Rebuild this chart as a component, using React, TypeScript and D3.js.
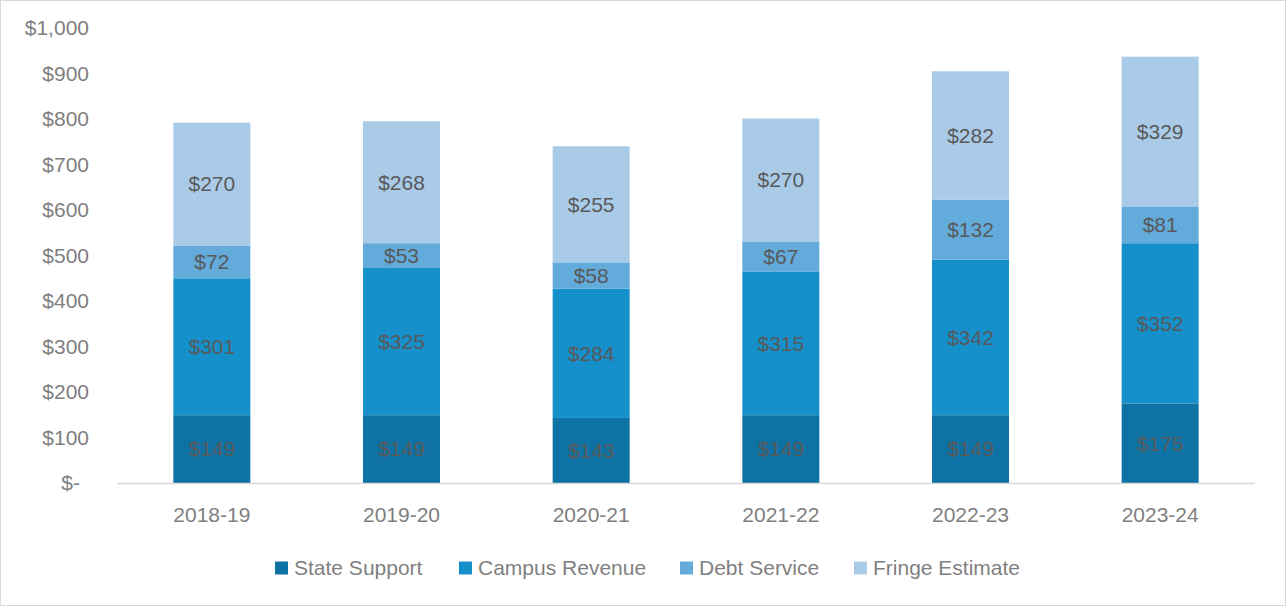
import { useEffect } from 'react';
import * as d3 from 'd3';

const years = ['2018-19', '2019-20', '2020-21', '2021-22', '2022-23', '2023-24'];
const stateSupport = [149, 149, 143, 149, 149, 175];
const campusRevenue = [301, 325, 284, 315, 342, 352];
const debtService = [72, 53, 58, 67, 132, 81];
const fringeEstimate = [270, 268, 255, 270, 282, 329];
const seriesNames = ['State Support', 'Campus Revenue', 'Debt Service', 'Fringe Estimate'];
const seriesColors = ['#0e73a4', '#1590ca', '#62abdb', '#a9cbe8'];
const yTicks = [0, 100, 200, 300, 400, 500, 600, 700, 800, 900, 1000];

const W = 1286;
const H = 606;
const font = '"Liberation Sans", Arial, sans-serif';

const App = () => {
  useEffect(() => {
    document.body.style.margin = '0';
  }, []);

  const rows = years.map((y, i) => ({
    year: y,
    'State Support': stateSupport[i],
    'Campus Revenue': campusRevenue[i],
    'Debt Service': debtService[i],
    'Fringe Estimate': fringeEstimate[i],
  }));

  const stacked = d3.stack<any>().keys(seriesNames)(rows);

  const x = d3.scaleBand().domain(years).range([117, 1255]).paddingInner(0.594).paddingOuter(0.297);
  const y = d3.scaleLinear().domain([0, 1000]).range([483, 28]);

  const fmt = (v: number) => (v === 0 ? '$-' : '$' + d3.format(',')(v));

  // legend: square x positions (text follows after a gap)
  const legendX = [275, 459, 680, 854];

  return (
    <svg width={W} height={H} style={{ display: 'block', fontFamily: font }}>
      <rect x={0.5} y={0.5} width={W - 1} height={H - 1} fill="#fff" stroke="#d9d9d9" />

      {yTicks.map((t) => (
        <text
          key={t}
          x={t === 0 ? 80 : 89}
          y={y(t)}
          dy="0.35em"
          textAnchor="end"
          fontSize={21}
          fill="#7f7f7f"
        >
          {fmt(t)}
        </text>
      ))}

      {stacked.map((s, si) => (
        <g key={s.key}>
          {s.map((d, i) => (
            <rect
              key={i}
              x={x(years[i])}
              y={y(d[1])}
              width={x.bandwidth()}
              height={y(d[0]) - y(d[1])}
              fill={seriesColors[si]}
            />
          ))}
        </g>
      ))}

      {stacked.map((s) => (
        <g key={s.key + '-lbl'}>
          {s.map((d, i) => (
            <text
              key={i}
              x={(x(years[i]) as number) + x.bandwidth() / 2}
              y={y((d[0] + d[1]) / 2)}
              dy="0.35em"
              textAnchor="middle"
              fontSize={21}
              fill="#595959"
            >
              {'$' + (d[1] - d[0])}
            </text>
          ))}
        </g>
      ))}

      <line x1={117} x2={1255} y1={483.5} y2={483.5} stroke="#d9d9d9" strokeWidth={1.5} />

      {years.map((yr) => (
        <text
          key={yr}
          x={(x(yr) as number) + x.bandwidth() / 2}
          y={515}
          dy="0.35em"
          textAnchor="middle"
          fontSize={21}
          fill="#7f7f7f"
        >
          {yr}
        </text>
      ))}

      {seriesNames.map((n, i) => (
        <g key={n} transform={`translate(${legendX[i]},568)`}>
          <rect x={0} y={-6.5} width={13} height={13} fill={seriesColors[i]} />
          <text x={19} y={0} dy="0.35em" fontSize={21} fill="#7f7f7f">
            {n}
          </text>
        </g>
      ))}
    </svg>
  );
};

export default App;
